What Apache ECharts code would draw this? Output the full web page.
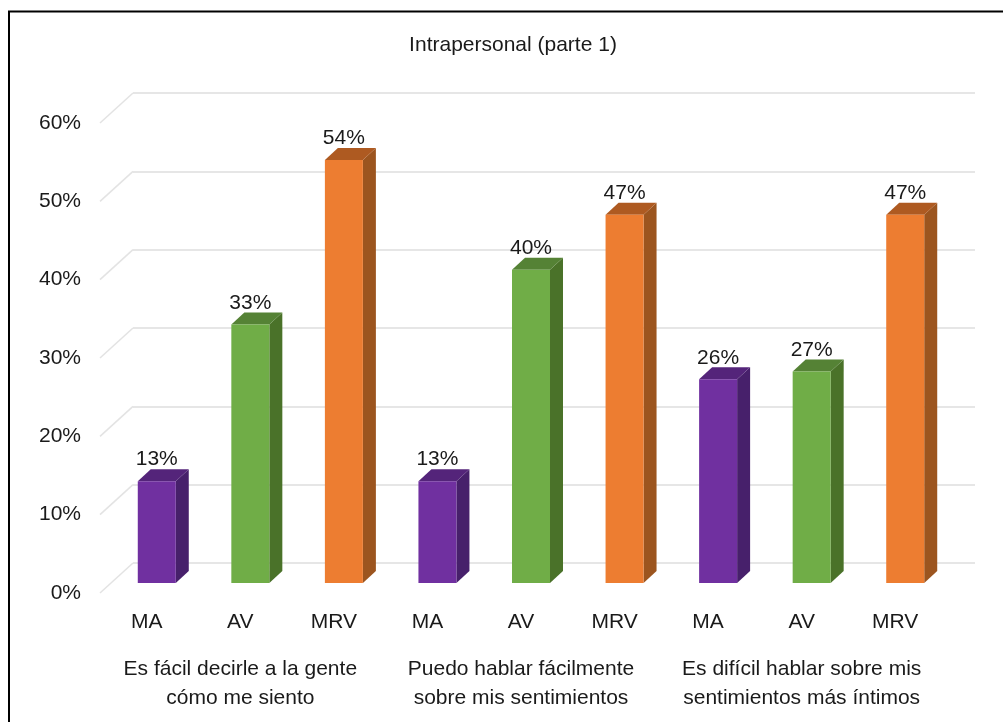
<!DOCTYPE html>
<html>
<head>
<meta charset="utf-8">
<style>
  html, body { margin: 0; padding: 0; background: #fff; }
  #main { width: 1003px; height: 722px; }
</style>
<script src="https://cdn.jsdelivr.net/npm/echarts@6/dist/echarts.min.js"></script>
</head>
<body>
<div id="main"></div>
<script>
const title = 'Intrapersonal (parte 1)';
const categories = ['MA', 'AV', 'MRV', 'MA', 'AV', 'MRV', 'MA', 'AV', 'MRV'];
const groups = [
  'Es fácil decirle a la gente\ncómo me siento',
  'Puedo hablar fácilmente\nsobre mis sentimientos',
  'Es difícil hablar sobre mis\nsentimientos más íntimos'
];
const values = [13, 33, 54, 13, 40, 47, 26, 27, 47];
const yTicks = [0, 10, 20, 30, 40, 50, 60];

const faceColors = { MA: '#7030a0', AV: '#70ad47', MRV: '#ed7d31' };
const sideColors = { MA: '#47206b', AV: '#4a7229', MRV: '#9c551f' };
const topColors = { MA: '#54247a', AV: '#558235', MRV: '#ae5a21' };

const fontFamily = '"Liberation Sans", Arial, sans-serif';
const textColor = '#1a1a1a';

// the grid is the front edge of the floor, the back wall sits up and to the right of it
const wallDx = 33, wallDy = -30;
const barDx = 10, barDy = -10;   // bars stand a bit inside the floor
const depthX = 13, depthY = -12;
const barWidth = 38;

function renderBar(params, api) {
  const idx = api.value(0);
  const val = api.value(1);
  const base = api.coord([idx, 0]);
  const tip = api.coord([idx, val]);
  const name = categories[idx];
  const l = base[0] + barDx - barWidth / 2, r = l + barWidth;
  const b = base[1] + barDy, t = tip[1] + barDy;
  return {
    type: 'group',
    children: [
      { type: 'polygon', shape: { points: [[r, b], [r + depthX, b + depthY], [r + depthX, t + depthY], [r, t]] }, style: { fill: sideColors[name] } },
      { type: 'polygon', shape: { points: [[l, t], [r, t], [r + depthX, t + depthY], [l + depthX, t + depthY]] }, style: { fill: topColors[name] } },
      { type: 'rect', shape: { x: l, y: t, width: barWidth, height: b - t }, style: { fill: faceColors[name] } },
      { type: 'text', x: (l + r) / 2, y: t + depthY + 1, style: { text: val + '%', fill: textColor, font: '21px ' + fontFamily, textAlign: 'center', textVerticalAlign: 'bottom' } }
    ]
  };
}

function renderFloorLine(params, api) {
  const p = api.coord([0, api.value(0)]);
  const x = p[0] - api.size([1, 0])[0] / 2;
  return {
    type: 'line',
    shape: { x1: x, y1: p[1], x2: x + wallDx, y2: p[1] + wallDy },
    style: { stroke: '#e3e3e3', lineWidth: 1.5 }
  };
}

const chart = echarts.init(document.getElementById('main'), null, { renderer: 'canvas' });
chart.setOption({
  backgroundColor: '#fff',
  animation: false,
  title: {
    text: title,
    left: 508,
    top: 30,
    textAlign: 'center',
    textStyle: { color: textColor, fontFamily, fontSize: 21, fontWeight: 'normal' }
  },
  graphic: [{
    type: 'polyline',
    silent: true,
    shape: { points: [[9, 722], [9, 11.5], [1003, 11.5]] },
    style: { fill: 'none', stroke: '#000', lineWidth: 2 }
  }],
  grid: [
    { left: 100, top: 123, width: 842, height: 470 },
    { left: 133, top: 93, width: 842, height: 470 }
  ],
  xAxis: [
    {
      type: 'category', gridIndex: 0, data: categories,
      axisLine: { show: false }, axisTick: { show: false },
      axisLabel: { interval: 0, margin: 19, color: textColor, fontFamily, fontSize: 21 }
    },
    {
      type: 'category', gridIndex: 0, data: groups, position: 'bottom',
      axisLine: { show: false }, axisTick: { show: false },
      axisLabel: { interval: 0, margin: 62, color: textColor, fontFamily, fontSize: 21, lineHeight: 29, align: 'center' }
    },
    {
      type: 'category', gridIndex: 1, data: categories, show: false
    }
  ],
  yAxis: [
    {
      type: 'value', gridIndex: 0, min: 0, max: 60, interval: 10,
      axisLine: { show: false }, axisTick: { show: false }, splitLine: { show: false },
      axisLabel: { margin: 19, color: textColor, fontFamily, fontSize: 21, formatter: '{value}%' }
    },
    {
      type: 'value', gridIndex: 1, min: 0, max: 60, interval: 10,
      axisLine: { show: false }, axisTick: { show: false }, axisLabel: { show: false },
      splitLine: { show: true, lineStyle: { color: '#dedede', width: 1.5 } }
    }
  ],
  series: [
    {
      type: 'custom', xAxisIndex: 0, yAxisIndex: 0, silent: true, z: 1,
      data: yTicks.map(v => [v]),
      encode: { y: 0 },
      renderItem: renderFloorLine
    },
    {
      type: 'custom', xAxisIndex: 0, yAxisIndex: 0, silent: true, z: 3,
      data: values.map((v, i) => [i, v]),
      encode: { x: 0, y: 1 },
      renderItem: renderBar
    }
  ]
});
</script>
</body>
</html>
